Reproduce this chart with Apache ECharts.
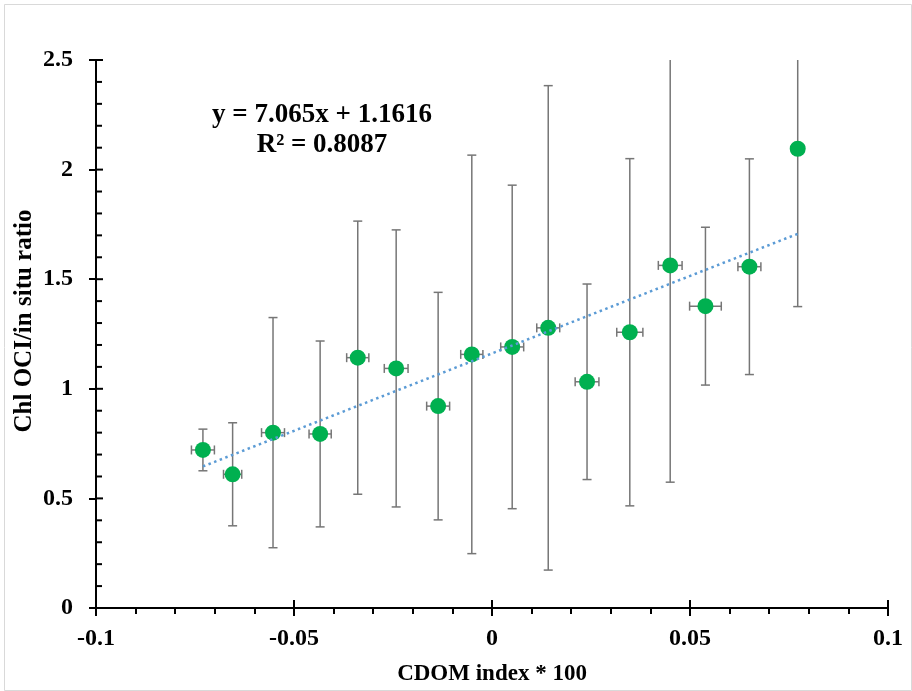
<!DOCTYPE html>
<html>
<head>
<meta charset="utf-8">
<title>Chl OCI / in situ ratio vs CDOM index</title>
<script src="https://cdn.jsdelivr.net/npm/echarts@6/dist/echarts.min.js"></script>
<style>
  html, body { margin: 0; padding: 0; background: #ffffff; }
  #chart { width: 912px; height: 691px; }
</style>
</head>
<body>
<div id="chart"></div>
<script>
// CDOM index (x100) for each bin
const cdomIndex = [-0.0730, -0.0655, -0.0553, -0.0434, -0.0339, -0.0242, -0.0136, -0.0051,
                   0.0051, 0.0142, 0.0240, 0.0348, 0.0450, 0.0539, 0.0650, 0.0772];
// Mean Chl OCI / in situ ratio for each bin
const chlRatio = [0.721, 0.610, 0.800, 0.794, 1.142, 1.093, 0.921, 1.157,
                  1.191, 1.278, 1.032, 1.258, 1.563, 1.377, 1.557, 2.095];
// Horizontal error (CDOM index)
const cdomErr = [0.0029, 0.0023, 0.0029, 0.0028, 0.0028, 0.0030, 0.0029, 0.0028,
                 0.0029, 0.0029, 0.0030, 0.0033, 0.0030, 0.0040, 0.0029, 0.0015];
// Vertical error (ratio)
const ratioErr = [0.095, 0.235, 0.525, 0.424, 0.623, 0.632, 0.519, 0.909,
                  0.738, 1.105, 0.446, 0.792, 0.989, 0.360, 0.492, 0.720];

// Linear least-squares fit reported on the chart
const trendSlope = 7.065;
const trendIntercept = 1.1616;
const trendR2 = 0.8087;

// Axis ranges and tick steps
const xMin = -0.1, xMax = 0.1, xStep = 0.05;
const yMin = 0, yMax = 2.5, yStep = 0.5, yMinorStep = 0.1;

const FONT = 'Liberation Serif';
const AXIS_COLOR = '#000000';
const ERR_COLOR = '#767676';

const points = cdomIndex.map((x, i) => [x, chlRatio[i], cdomErr[i], ratioErr[i]]);
const xFirst = cdomIndex[0];
const xLast = cdomIndex[cdomIndex.length - 1];
const trendPoints = [
  [xFirst, trendSlope * xFirst + trendIntercept],
  [xLast, trendSlope * xLast + trendIntercept]
];

// Tick marks that sit on the plot side of each axis (Excel-style cross ticks)
const innerTicks = [];
for (let k = 0; k <= Math.round((xMax - xMin) / xStep); k++) {
  innerTicks.push([+(xMin + k * xStep).toFixed(4), 0]);           // x major, pointing up
}
for (let k = 0; k <= Math.round((yMax - yMin) / yMinorStep); k++) {
  const v = +(yMin + k * yMinorStep).toFixed(4);
  const major = k % Math.round(yStep / yMinorStep) === 0;
  innerTicks.push([v, major ? 1 : 2]);                             // y major / minor, pointing right
}

function renderInnerTicks(params, api) {
  const v = api.value(0), kind = api.value(1);
  const style = { stroke: AXIS_COLOR, lineWidth: 2 };
  if (kind === 0) {
    const p = api.coord([v, yMin]);
    return { type: 'line', shape: { x1: p[0], y1: p[1], x2: p[0], y2: p[1] - 8 }, style };
  }
  const p = api.coord([xMin, v]);
  const len = kind === 1 ? 7 : 6;
  return { type: 'line', shape: { x1: p[0], y1: p[1], x2: p[0] + len, y2: p[1] }, style };
}

function renderErrorBars(params, api) {
  const x = api.value(0), y = api.value(1), ex = api.value(2), ey = api.value(3);
  const top = api.coord([x, y + ey]);
  const bot = api.coord([x, y - ey]);
  const left = api.coord([x - ex, y]);
  const right = api.coord([x + ex, y]);
  const cap = 4.5;
  const style = { stroke: ERR_COLOR, lineWidth: 1.5 };
  const line = (x1, y1, x2, y2) => ({ type: 'line', shape: { x1, y1, x2, y2 }, style });
  return {
    type: 'group',
    children: [
      line(top[0], top[1], bot[0], bot[1]),
      line(top[0] - cap, top[1], top[0] + cap, top[1]),
      line(bot[0] - cap, bot[1], bot[0] + cap, bot[1]),
      line(left[0], left[1], right[0], right[1]),
      line(left[0], left[1] - cap, left[0], left[1] + cap),
      line(right[0], right[1] - cap, right[0], right[1] + cap)
    ]
  };
}

const labelStyle = { fontFamily: FONT, fontWeight: 'bold', fontSize: 24, color: '#000000' };

const chart = echarts.init(document.getElementById('chart'), null, { renderer: 'canvas' });

chart.setOption({
  animation: false,
  backgroundColor: '#ffffff',
  grid: { left: 96, right: 24, top: 60, bottom: 82, containLabel: false },
  xAxis: {
    type: 'value', min: xMin, max: xMax, interval: xStep, position: 'bottom',
    axisLine: { show: true, onZero: false, lineStyle: { color: AXIS_COLOR, width: 2 } },
    axisTick: { show: true, inside: false, length: 8, lineStyle: { color: AXIS_COLOR, width: 2 } },
    minorTick: { show: true, splitNumber: 5, length: 6, lineStyle: { color: AXIS_COLOR, width: 2 } },
    splitLine: { show: false },
    axisLabel: Object.assign({ margin: 19 }, labelStyle),
    name: 'CDOM index * 100', nameLocation: 'middle', nameGap: 55,
    nameTextStyle: { fontFamily: FONT, fontWeight: 'bold', fontSize: 23, color: '#000000' }
  },
  yAxis: {
    type: 'value', min: yMin, max: yMax, interval: yStep, position: 'left',
    axisLine: { show: true, onZero: false, lineStyle: { color: AXIS_COLOR, width: 2 } },
    axisTick: { show: true, inside: false, length: 7, lineStyle: { color: AXIS_COLOR, width: 2 } },
    splitLine: { show: false },
    axisLabel: Object.assign({ margin: 23 }, labelStyle)
  },
  series: [
    {
      name: 'axisTicks', type: 'custom', clip: false, silent: true, z: 1,
      renderItem: renderInnerTicks,
      data: innerTicks
    },
    {
      name: 'error', type: 'custom', clip: true, silent: true, z: 2,
      renderItem: renderErrorBars,
      data: points
    },
    {
      name: 'ratio', type: 'scatter', z: 3,
      symbol: 'circle', symbolSize: 16,
      itemStyle: { color: '#00B050', opacity: 1 },
      data: points.map(p => [p[0], p[1]])
    },
    {
      name: 'trend', type: 'line', z: 4,
      showSymbol: false, symbol: 'none',
      lineStyle: { color: '#5B9BD5', width: 2.5, type: [2.5, 3.5] },
      data: trendPoints
    }
  ],
  graphic: [
    {
      type: 'rect', left: 2, top: 2, z: -10, silent: true,
      shape: { width: 907, height: 686 },
      style: { fill: 'none', stroke: '#d9d9d9', lineWidth: 1 }
    },
    {
      type: 'text', x: 25, y: 321, rotation: Math.PI / 2, z: 10,
      style: {
        text: 'Chl OCI/in situ ratio',
        fontFamily: FONT, fontWeight: 'bold', fontSize: 25, fill: '#000000',
        align: 'center', verticalAlign: 'middle'
      }
    },
    {
      type: 'text', x: 322, y: 115, z: 10,
      style: {
        text: 'y = ' + trendSlope + 'x + ' + trendIntercept,
        fontFamily: FONT, fontWeight: 'bold', fontSize: 27, fill: '#000000',
        align: 'center', verticalAlign: 'middle'
      }
    },
    {
      type: 'text', x: 322, y: 145, z: 10,
      style: {
        text: 'R² = ' + trendR2,
        fontFamily: FONT, fontWeight: 'bold', fontSize: 27, fill: '#000000',
        align: 'center', verticalAlign: 'middle'
      }
    }
  ]
});
</script>
</body>
</html>
